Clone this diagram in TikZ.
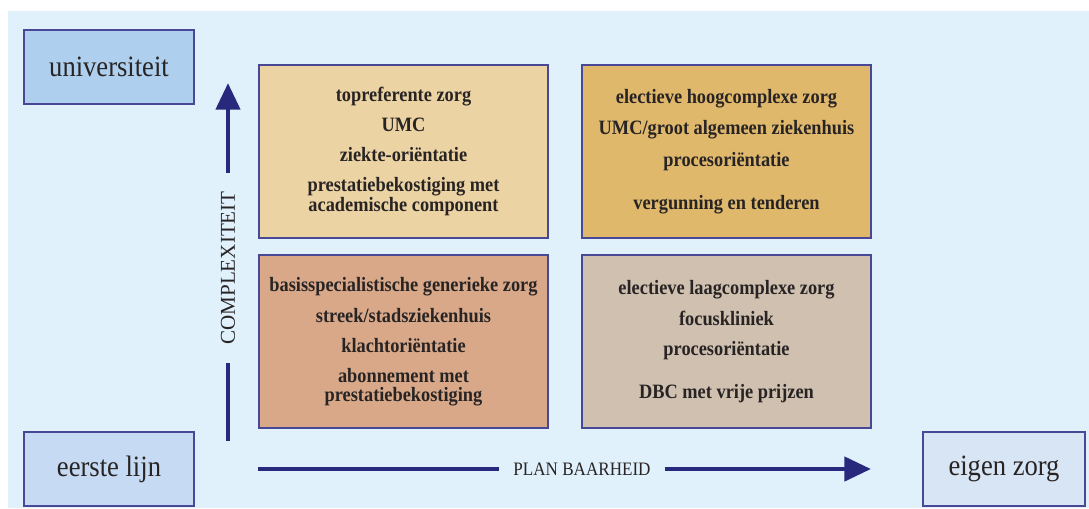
\documentclass[tikz,border=0pt]{standalone}
\usepackage{fontspec}
\setmainfont{Liberation Serif}[FakeStretch=0.9]
\newfontfamily\uprightserif{Liberation Serif}
\usetikzlibrary{arrows.meta}

\definecolor{bgblue}{RGB}{224,241,252}
\definecolor{frameblue}{RGB}{72,72,150}
\definecolor{arrowblue}{RGB}{40,40,125}
\definecolor{textdark}{RGB}{40,36,36}
\definecolor{unifill}{RGB}{174,207,238}
\definecolor{eerstefill}{RGB}{198,219,243}
\definecolor{eigenfill}{RGB}{216,229,245}
\definecolor{topleftfill}{RGB}{236,211,163}
\definecolor{toprightfill}{RGB}{224,184,108}
\definecolor{bottomleftfill}{RGB}{216,168,137}
\definecolor{bottomrightfill}{RGB}{207,192,176}

\begin{document}
\begin{tikzpicture}[x=0.025cm, y=-0.025cm,
    levelbox/.style={rectangle, draw=frameblue, line width=1.2pt, minimum width=4.25cm, minimum height=1.85cm, inner sep=0pt, text=textdark, font=\fontsize{21}{24}\selectfont},
    quadrant/.style={rectangle, draw=frameblue, line width=1.2pt, minimum width=7.225cm, minimum height=4.325cm, inner sep=0pt, align=center, text=textdark, font=\bfseries\fontsize{14.5}{13.2}\selectfont},
    axisline/.style={draw=arrowblue, line width=3.5pt},
    axisarrow/.style={axisline, -{Triangle[length=19pt, width=17pt]}},
    axislabel/.style={inner ysep=0pt, text=textdark}]
    \useasboundingbox (0,0) rectangle (1089,508);
    \fill[bgblue] (8,11) rectangle (1089,508);

    % levels of care
    \node at (109,67) [levelbox, fill=unifill] (Universiteit) {universiteit};
    \node at (109,469) [levelbox, fill=eerstefill] (EersteLijn) {eerste lijn};
    \node at (1004,469) [levelbox, fill=eigenfill, minimum width=4.05cm] (EigenZorg) {eigen zorg};

    % four quadrants
    \node at (403.5,151.5) [quadrant, fill=topleftfill] (Topreferent) {topreferente zorg\\[8.1pt] UMC\\[8.1pt] ziekte-oriëntatie\\[8.1pt] prestatiebekostiging met\\ academische component};
    \node at (726.5,151.5) [quadrant, fill=toprightfill] (Hoogcomplex) {electieve hoogcomplexe zorg\\[8.1pt] UMC/groot algemeen ziekenhuis\\[8.1pt] procesoriëntatie\\[17.4pt] vergunning en tenderen};
    \node at (403.5,341.5) [quadrant, fill=bottomleftfill] (Basisspecialistisch) {basisspecialistische generieke zorg\\[8.1pt] streek/stadsziekenhuis\\[8.1pt] klachtoriëntatie\\[8.1pt] abonnement met\\ prestatiebekostiging};
    \node at (726.5,341.5) [quadrant, fill=bottomrightfill] (Laagcomplex) {electieve laagcomplexe zorg\\[8.1pt] focuskliniek\\[8.1pt] procesoriëntatie\\[17.4pt] DBC met vrije prijzen};

    % axes
    \coordinate (VertStart) at (228,441);
    \coordinate (VertTip) at (228,83);
    \coordinate (HorStart) at (258,469);
    \coordinate (HorTip) at (871,469);
    \node at (228,268) [axislabel, rotate=90, inner xsep=13pt, font=\uprightserif\fontsize{15}{18}\selectfont] (Complexiteit) {COMPLEXITEIT};
    \node at (582,469) [axislabel, inner xsep=10pt, font=\fontsize{13.5}{16}\selectfont] (Planbaarheid) {PLAN BAARHEID};

    \draw[axisline] (VertStart) -- (Complexiteit.west);
    \draw[axisarrow] (Complexiteit.east) -- (VertTip);
    \draw[axisline] (HorStart) -- (Planbaarheid.west);
    \draw[axisarrow] (Planbaarheid.east) -- (HorTip);
\end{tikzpicture}
\end{document}
